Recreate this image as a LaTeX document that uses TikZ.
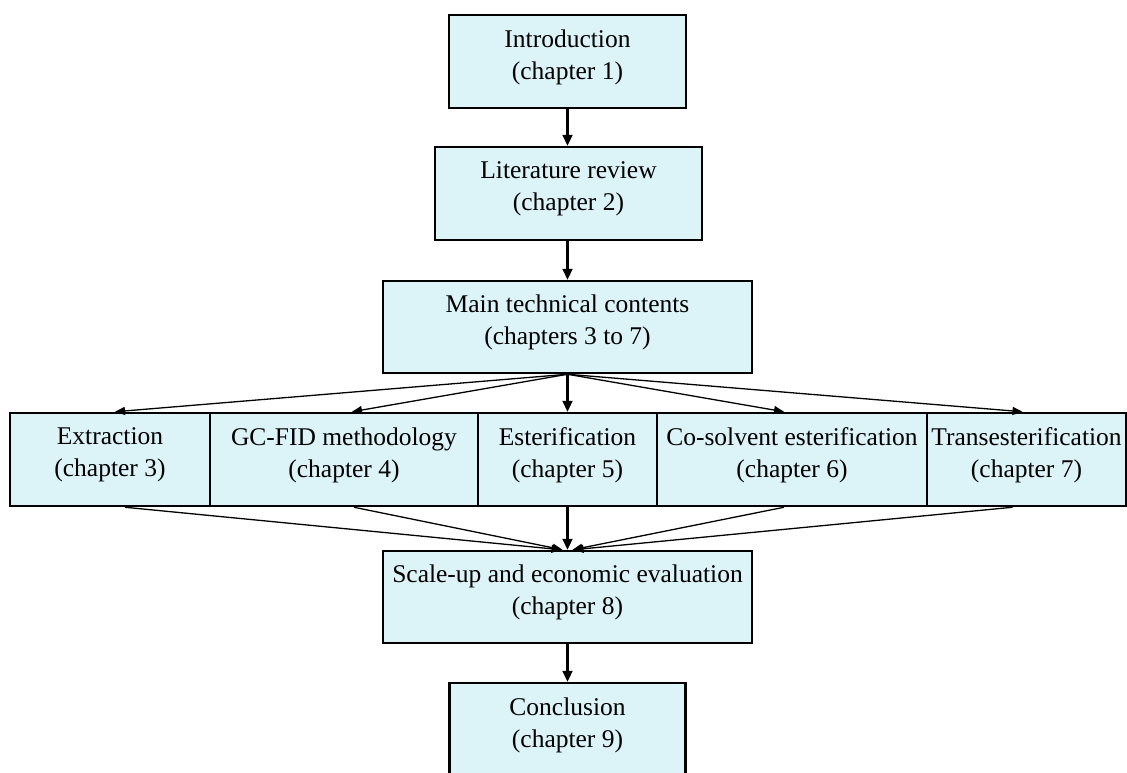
\documentclass[tikz,border=0pt]{standalone}
\usepackage{fontspec}
\setmainfont{Liberation Serif}
\usetikzlibrary{arrows.meta,calc}
\definecolor{boxfill}{RGB}{220,243,248}
\tikzset{
  box/.style={draw=black, fill=boxfill, line width=2.5pt, align=center,
    inner sep=0pt, text depth=14pt, font=\fontsize{25.5}{32}\selectfont},
  thickarrow/.style={line width=2.2pt, -{Triangle[length=11pt,width=10pt]}},
  thinarrow/.style={line width=1.3pt, -{Triangle[length=10pt,width=8pt]}}
}
\begin{document}
\begin{tikzpicture}[x=1pt,y=-1pt]
\clip (0,0) rectangle (1127,772);
\useasboundingbox (0,0) rectangle (1127,772);
\fill[white] (0,0) rectangle (1127,772);
\node[box, minimum width=237pt, minimum height=93pt] (intro) at (567.5,61.5) {Introduction\\ (chapter 1)};
\node[box, minimum width=267pt, minimum height=93pt] (lit) at (568.5,193.5) {Literature review\\(chapter 2)};
\node[box, minimum width=369pt, minimum height=92pt] (main) at (567.5,327) {Main technical contents\\(chapters 3 to 7)};
\node[box, minimum width=200pt, minimum height=93pt] (ext) at (110,459.5) {Extraction\\(chapter 3)};
\node[box, minimum width=268pt, minimum height=93pt] (gc) at (344,459.5) {GC-FID methodology\\(chapter 4)};
\node[box, minimum width=270pt, minimum height=93pt] (co) at (792,459.5) {Co-solvent esterification\\(chapter 6)};
\node[box, minimum width=199pt, minimum height=93pt] (tr) at (1026.5,459.5) {Transesterification\\(chapter 7)};
\node[box, minimum width=179pt, minimum height=93pt] (est) at (567.5,459.5) {Esterification\\(chapter 5)};
\node[box, minimum width=369pt, minimum height=92pt] (scale) at (567.5,597) {Scale-up and economic evaluation\\(chapter 8)};
\node[box, minimum width=236pt, minimum height=93pt] (concl) at (567.5,729.5) {Conclusion\\(chapter 9)};

\draw[thickarrow] (intro.south) -- (intro.south |- lit.north);
\draw[thickarrow] (lit.south -| main.north) -- (main.north);
\draw[thickarrow] (main.south) -- (est.north);
\draw[thinarrow] (main.south) -- ($(ext.north)+(5,0)$);
\draw[thinarrow] (main.south) -- ($(gc.north)+(8,0)$);
\draw[thinarrow] (main.south) -- ($(co.north)+(-8,0)$);
\draw[thinarrow] (main.south) -- ($(tr.north)+(-4,0)$);
\draw[thickarrow] (est.south) -- (scale.north);
\draw[thinarrow] ($(ext.south)+(15,0)$) -- ($(scale.north)+(-6,0)$);
\draw[thinarrow] ($(gc.south)+(10,0)$) -- ($(scale.north)+(-5,0)$);
\draw[thinarrow] ($(co.south)+(-8,0)$) -- ($(scale.north)+(5,0)$);
\draw[thinarrow] ($(tr.south)+(-14,0)$) -- ($(scale.north)+(6,0)$);
\draw[thickarrow] (scale.south) -- (concl.north);
\end{tikzpicture}
\end{document}
